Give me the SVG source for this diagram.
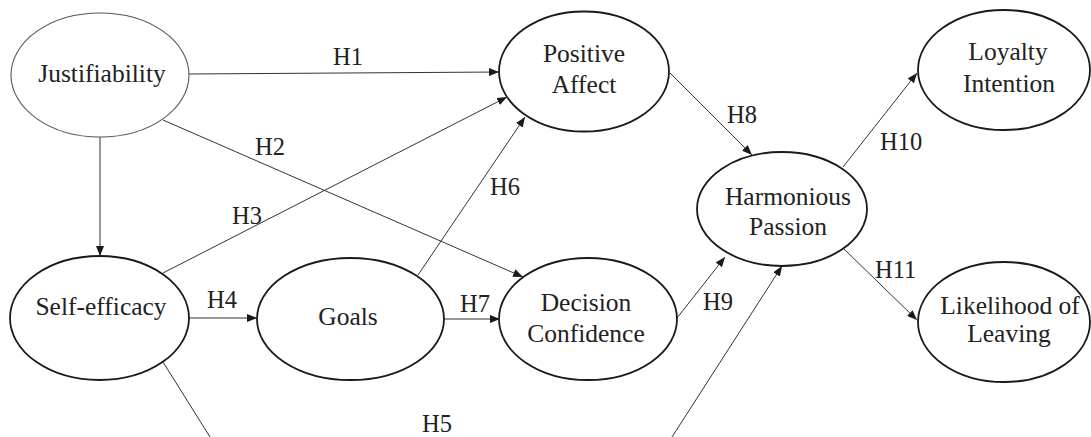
<svg xmlns="http://www.w3.org/2000/svg" width="1091" height="437" viewBox="0 0 1091 437">
<style>
.node{fill:#fff;stroke:#1a1a1a;stroke-width:1.8}
.thin{stroke:#555;stroke-width:1.1}
.t{font-size:25.5px;fill:#222;text-anchor:middle}
.lab{font-size:24.5px;fill:#222}
.c{stroke:#333;stroke-width:1;fill:none}
</style>
<defs>
<marker id="ah" markerUnits="userSpaceOnUse" markerWidth="11" markerHeight="8" refX="10" refY="4" orient="auto">
<path d="M0,0 L10,4 L0,8 z" fill="#1a1a1a"/>
</marker>
</defs>
<rect width="1091" height="437" fill="#fff"/>
<g font-family="'Liberation Serif', 'DejaVu Serif', serif">
<g id="connectors">
<line class="c" x1="100" y1="137" x2="100" y2="256" marker-end="url(#ah)"/>
<line class="c" x1="189" y1="74" x2="499" y2="72" marker-end="url(#ah)"/>
<line class="c" x1="163" y1="120" x2="523" y2="277" marker-end="url(#ah)"/>
<line class="c" x1="163" y1="273" x2="507" y2="97" marker-end="url(#ah)"/>
<line class="c" x1="189" y1="318" x2="257" y2="318" marker-end="url(#ah)"/>
<line class="c" x1="163" y1="362" x2="210" y2="437"/>
<line class="c" x1="418" y1="275" x2="525" y2="117" marker-end="url(#ah)"/>
<line class="c" x1="444" y1="319" x2="500" y2="319" marker-end="url(#ah)"/>
<line class="c" x1="670" y1="73" x2="752" y2="155" marker-end="url(#ah)"/>
<line class="c" x1="677" y1="318" x2="725" y2="257" marker-end="url(#ah)"/>
<line class="c" x1="672" y1="437" x2="782" y2="266" marker-end="url(#ah)"/>
<line class="c" x1="843" y1="167" x2="917" y2="73" marker-end="url(#ah)"/>
<line class="c" x1="844" y1="249" x2="917" y2="320" marker-end="url(#ah)"/>
<text class="lab" x="333" y="65">H1</text>
<text class="lab" x="255" y="155">H2</text>
<text class="lab" x="232" y="224">H3</text>
<text class="lab" x="207" y="308">H4</text>
<text class="lab" x="422" y="432">H5</text>
<text class="lab" x="490" y="195">H6</text>
<text class="lab" x="460" y="312">H7</text>
<text class="lab" x="727" y="123">H8</text>
<text class="lab" x="703" y="310">H9</text>
<text class="lab" x="880" y="150">H10</text>
<text class="lab" x="875" y="278">H11</text>
</g>
<g id="justifiability">
<ellipse class="node thin" cx="100" cy="75" rx="89" ry="62"/>
<text class="t" x="102" y="82">Justifiability</text>
</g>
<g id="self-efficacy">
<ellipse class="node" cx="99.5" cy="318" rx="89.5" ry="62"/>
<text class="t" x="101" y="315">Self-efficacy</text>
</g>
<g id="goals">
<ellipse class="node" cx="350.5" cy="319" rx="93.5" ry="61"/>
<text class="t" x="348" y="325">Goals</text>
</g>
<g id="positive-affect">
<ellipse class="node" cx="584" cy="71.5" rx="85" ry="60"/>
<text class="t" x="584" y="62">Positive</text>
<text class="t" x="584" y="93">Affect</text>
</g>
<g id="decision-confidence">
<ellipse class="node" cx="588" cy="319" rx="89" ry="61"/>
<text class="t" x="586" y="311">Decision</text>
<text class="t" x="586" y="342">Confidence</text>
</g>
<g id="harmonious-passion">
<ellipse class="node" cx="782" cy="209" rx="85" ry="57"/>
<text class="t" x="788" y="205">Harmonious</text>
<text class="t" x="788" y="235">Passion</text>
</g>
<g id="loyalty-intention">
<ellipse class="node" cx="1004" cy="70" rx="86" ry="60"/>
<text class="t" x="1008" y="60">Loyalty</text>
<text class="t" x="1009" y="92">Intention</text>
</g>
<g id="likelihood-of-leaving">
<ellipse class="node" cx="1004" cy="322" rx="86" ry="60"/>
<text class="t" x="1010" y="314">Likelihood of</text>
<text class="t" x="1009" y="342">Leaving</text>
</g>
</g>
</svg>
